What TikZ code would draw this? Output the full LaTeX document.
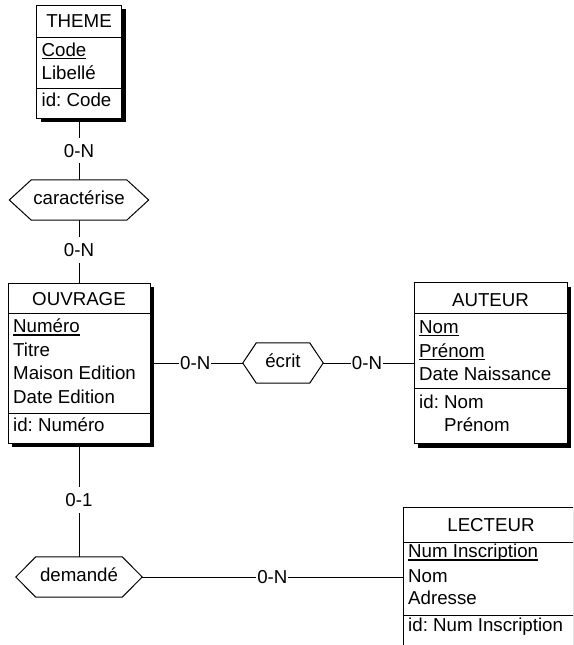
\documentclass[tikz,border=0pt]{standalone}
\usepackage{fontspec}
\setmainfont{Liberation Sans}
\usetikzlibrary{shadows}
\frenchspacing

% underlined identifier attribute
\newlength\keyw
\newcommand\keyattr[1]{\settowidth\keyw{#1}\rlap{\rule[-3pt]{\keyw}{1.4pt}}#1}

% hexagonal outline of a relationship node
\newcommand\relhex[2]{%
  \draw[relshape] (#1.west) -- ([xshift=#2]#1.north west) -- ([xshift=-#2]#1.north east)
    -- (#1.east) -- ([xshift=-#2]#1.south east) -- ([xshift=#2]#1.south west) -- cycle;}

\tikzset{
  basefont/.style={font=\fontsize{18.7pt}{22pt}\selectfont\frenchspacing},
  entity/.style={draw, line width=1pt, fill=white, rectangle, inner sep=0pt,
    drop shadow={shadow xshift=4pt, shadow yshift=-4pt, fill=black, opacity=1}},
  divider/.style={line width=1pt},
  entname/.style={basefont, anchor=base, inner sep=0pt},
  attr/.style={basefont, anchor=base west, inner sep=0pt},
  relbox/.style={basefont, inner sep=0pt, text height=8pt, text depth=0pt},
  relshape/.style={draw, line width=1pt},
  link/.style={line width=1pt},
  card/.style={basefont, fill=white, inner xsep=1pt, inner ysep=6pt,
    text height=13.4pt, text depth=0pt},
}

\begin{document}
\begin{tikzpicture}[x=1pt, y=-1pt]
\useasboundingbox (0,0) rectangle (573,645);
\clip (0,0) rectangle (573,645);

% ---- THEME ----
\node[entity, minimum width=85pt, minimum height=113pt] (theme) at (79,61.5) {};
\draw[divider] (theme.west |- 0,37) -- (theme.east |- 0,37);
\draw[divider] (theme.west |- 0,88) -- (theme.east |- 0,88);
\node[entname] (theme-t) at (79,27.5) {THEME};
\node[attr] (theme-a1) at (41.5,56) {\keyattr{Code}};
\node[attr] (theme-a2) at (41.5,79.5) {Libellé};
\node[attr] (theme-id) at (41.5,106.5) {id: Code};

% ---- OUVRAGE ----
\node[entity, minimum width=142pt, minimum height=160pt] (ouvrage) at (79,363) {};
\draw[divider] (ouvrage.west |- 0,313) -- (ouvrage.east |- 0,313);
\draw[divider] (ouvrage.west |- 0,413) -- (ouvrage.east |- 0,413);
\node[entname] (ouvrage-t) at (79,305) {OUVRAGE};
\node[attr] (ouvrage-a1) at (13,332.7) {\keyattr{Numéro}};
\node[attr] (ouvrage-a2) at (13,356) {Titre};
\node[attr] (ouvrage-a3) at (13,379.5) {Maison Edition};
\node[attr] (ouvrage-a4) at (13,403) {Date Edition};
\node[attr] (ouvrage-id) at (13,431.7) {id: Numéro};

% ---- AUTEUR ----
\node[entity, minimum width=153pt, minimum height=161pt] (auteur) at (490.5,363) {};
\draw[divider] (auteur.west |- 0,313) -- (auteur.east |- 0,313);
\draw[divider] (auteur.west |- 0,388) -- (auteur.east |- 0,388);
\node[entname] (auteur-t) at (490.5,306) {AUTEUR};
\node[attr] (auteur-a1) at (419,333.3) {\keyattr{Nom}};
\node[attr] (auteur-a2) at (419,357.3) {\keyattr{Prénom}};
\node[attr] (auteur-a3) at (419,380.7) {Date Naissance};
\node[attr] (auteur-id1) at (419,408.3) {id: Nom};
\node[attr] (auteur-id2) at (419,431.7) {\phantom{id: }Prénom};

% ---- LECTEUR (runs past the page edge) ----
\node[entity, minimum width=176pt, minimum height=153pt] (lecteur) at (491,583.5) {};
\draw[divider] (lecteur.west |- 0,542) -- (lecteur.east |- 0,542);
\draw[divider] (lecteur.west |- 0,615) -- (lecteur.east |- 0,615);
\node[entname] (lecteur-t) at (491,531) {LECTEUR};
\node[attr] (lecteur-a1) at (408,557.5) {\keyattr{Num Inscription}};
\node[attr] (lecteur-a2) at (408,582) {Nom};
\node[attr] (lecteur-a3) at (408,604.5) {Adresse};
\node[attr] (lecteur-id) at (408,631.7) {id: Num Inscription};

% ---- relationships ----
\node[relbox, minimum width=139pt, minimum height=40pt] (carac) at (79,200) {caractérise};
\relhex{carac}{22pt}
\node[relbox, minimum width=80pt, minimum height=40pt] (ecrit) at (283,363) {écrit};
\relhex{ecrit}{13.5pt}
\node[relbox, minimum width=126pt, minimum height=40pt] (demande) at (79,577) {demandé};
\relhex{demande}{20pt}

% ---- connectors with cardinalities ----
\draw[link] (theme) -- node[card, pos=0.52] (c1) {0-N} (carac);
\draw[link] (carac) -- node[card, pos=0.48] (c2) {0-N} (ouvrage);
\draw[link] (ouvrage) -- node[card, pos=0.485] (c3) {0-N} (ecrit);
\draw[link] (ecrit) -- node[card, pos=0.485] (c4) {0-N} (auteur);
\draw[link] (ouvrage) -- node[card, pos=0.5] (c5) {0-1} (demande);
\draw[link] (demande) -- node[card, pos=0.5] (c6) {0-N} (demande -| lecteur.west);
\end{tikzpicture}
\end{document}
